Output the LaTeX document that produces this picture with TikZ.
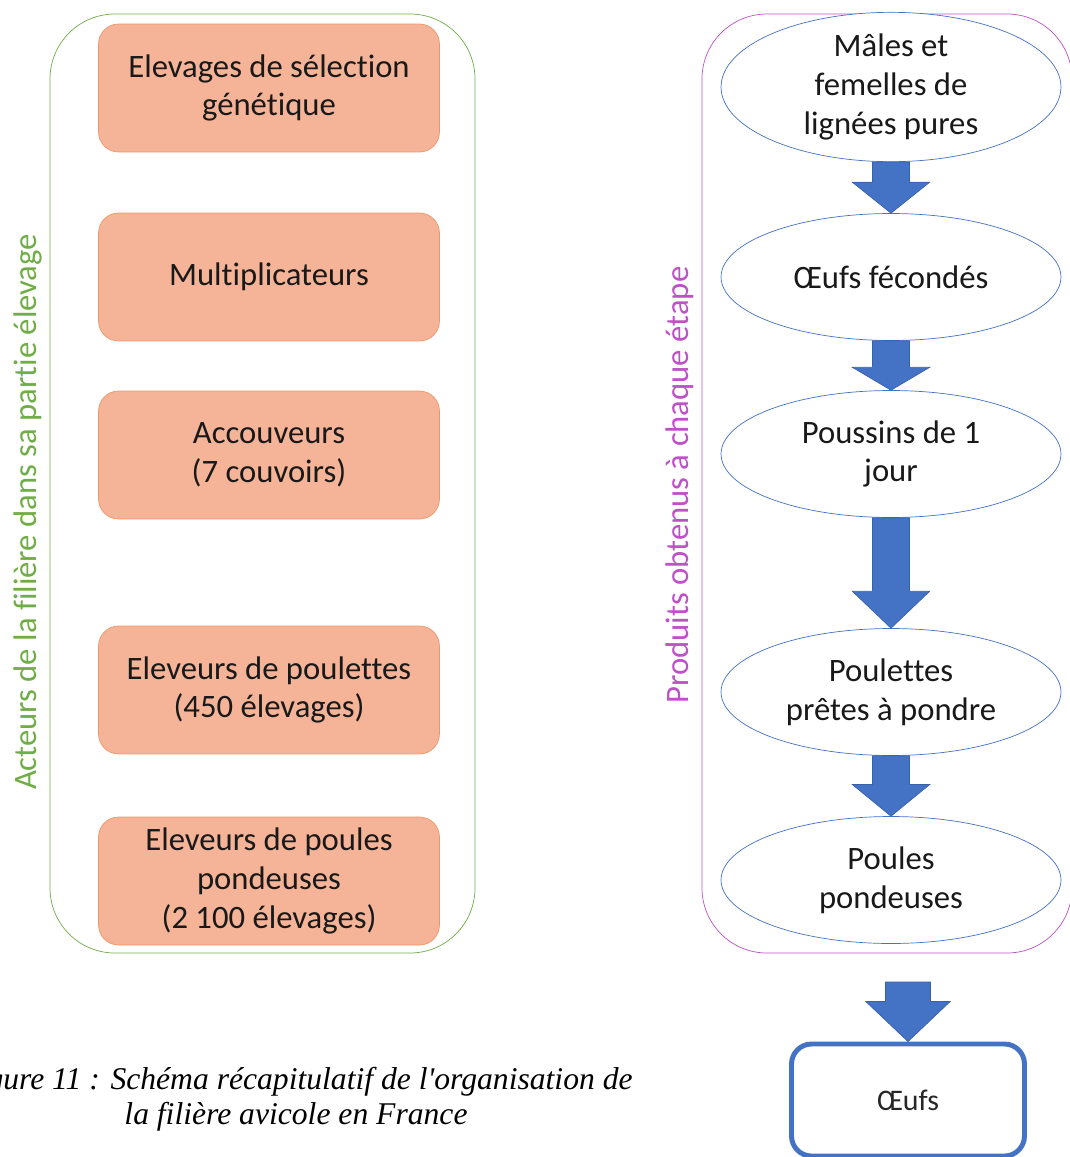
\documentclass[tikz,border=0pt]{standalone}
\usepackage{fontspec}
\setmainfont{Carlito}[Ligatures=NoCommon]
\newfontfamily\captionfont{Liberation Serif}
\usetikzlibrary{shapes.geometric,calc}

\definecolor{actgreen}{RGB}{112,173,71}
\definecolor{prodpink}{RGB}{190,80,200}
\definecolor{boxfill}{RGB}{245,180,152}
\definecolor{boxline}{RGB}{240,150,100}
\definecolor{arrowblue}{RGB}{68,114,196}

\newcommand{\bodyfont}{\fontsize{18.6}{22}\selectfont}
% block arrow: from, to, head length, shaft half width, head half width
\newcommand{\blockarrow}[5]{%
  \filldraw[arrowblue, draw=arrowblue!85!black] let \p1=(#1), \p2=(#2) in
    (\x1-#4,\y1) -- (\x1+#4,\y1) -- (\x1+#4,\y2+#3) -- (\x1+#5,\y2+#3)
    -- (\x2,\y2) -- (\x1-#5,\y2+#3) -- (\x1-#4,\y2+#3) -- cycle;}

\begin{document}
\begin{tikzpicture}[x=0.02cm, y=-0.02cm,
    actor/.style={draw=boxline, fill=boxfill, rounded corners=0.4cm,
      minimum width=6.82cm, minimum height=2.56cm, align=center,
      font=\bodyfont, text=black!90},
    product/.style={ellipse, draw=arrowblue, fill=white, minimum width=6.8cm,
      minimum height=2.54cm, inner sep=0pt, align=center, font=\bodyfont,
      text=black!90}]
  \useasboundingbox (0,0) rectangle (1070,1157);
  \clip (0,0) rectangle (1070,1157);

  % Actors frame
  \draw[actgreen, rounded corners=1.3cm] (50,14) rectangle (475,953);
  \node[rotate=90, text=actgreen, font=\bodyfont] (acteurs) at (28,512)
    {Acteurs de la filière dans sa partie élevage};

  % Actors
  \node[actor] (selection) at (269,88) {Elevages de sélection\\génétique};
  \node[actor] (multi) at (269,277) {Multiplicateurs};
  \node[actor] (couvoirs) at (269,455) {Accouveurs\\(7 couvoirs)};
  \node[actor] (poulettes) at (269,690) {Eleveurs de poulettes\\(450 élevages)};
  \node[actor] (pondeuses) at (269,881) {Eleveurs de poules\\pondeuses\\(2 100 élevages)};

  % Products frame
  \draw[prodpink, rounded corners=1.3cm] (702,14) rectangle (1072,953);
  \node[rotate=90, text=prodpink, font=\bodyfont] (produits) at (680,485)
    {Produits obtenus à chaque étape};

  % Products
  \node[product] (lignees) at (891,87) {Mâles et\\femelles de\\lignées pures};
  \node[product] (oeufsf) at (891,277) {Œufs fécondés};
  \node[product] (poussins) at (891,454) {Poussins de 1\\jour};
  \node[product] (pretes) at (891,692) {Poulettes\\prêtes à pondre};
  \node[product] (poules) at (891,880) {Poules\\pondeuses};

  % Arrows between products
  \blockarrow{lignees.south}{oeufsf.north}{17.6pt}{10.5pt}{22pt}
  \blockarrow{oeufsf.south}{poussins.north}{13pt}{10.5pt}{22pt}
  \blockarrow{poussins.south}{pretes.north}{21pt}{10.5pt}{22pt}
  \blockarrow{pretes.south}{poules.north}{18pt}{10.5pt}{22pt}

  % Eggs
  \node[draw=arrowblue, line width=2.8pt, rounded corners=0.4cm,
    minimum width=4.66cm, minimum height=2.24cm,
    font=\fontsize{17}{20}\selectfont, text=black!85] (oeufs) at (908,1100) {Œufs};
  \coordinate (eggstart) at (908,982);
  \blockarrow{eggstart}{oeufs.north}{22.8pt}{12.8pt}{24pt}

  % Caption
  \node[font=\captionfont\itshape\fontsize{18}{20}\selectfont, align=center]
    (caption) at (296,1099)
    {Figure 11 : Schéma récapitulatif de l\textquotesingle organisation de\\la filière avicole en France};
\end{tikzpicture}
\end{document}
